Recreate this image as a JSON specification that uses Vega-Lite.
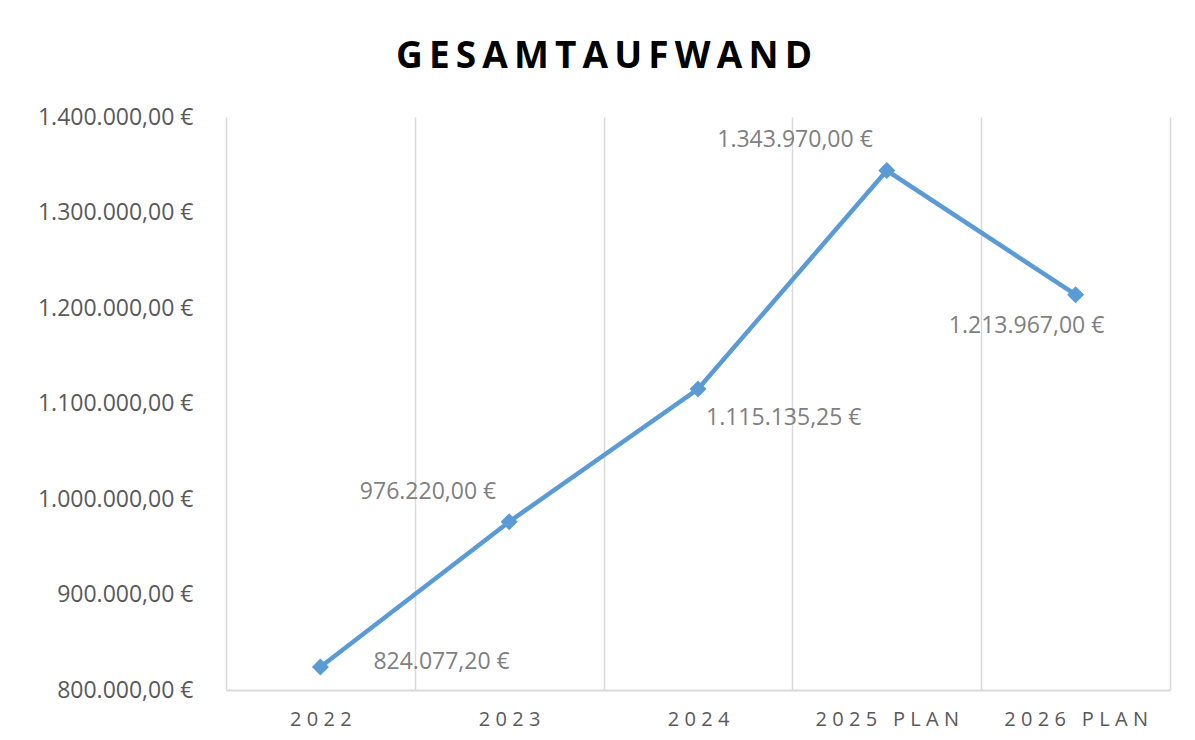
{
  "$schema": "https://vega.github.io/schema/vega-lite/v6.json",
  "autosize": {"type": "none"},
  "width": 944,
  "height": 573,
  "padding": {"left": 226, "top": 117, "right": 25, "bottom": 50},
  "background": "white",
  "config": {
    "view": {"stroke": null},
    "font": "Open Sans",
    "locale": {"number": {"decimal": ",", "thousands": ".", "grouping": [3], "currency": ["", " €"]}}
  },
  "title": {
    "text": "G\u2009E\u2009S\u2009A\u2009M\u2009T\u2009A\u2009U\u2009F\u2009W\u2009A\u2009N\u2009D",
    "font": "Open Sans",
    "fontSize": 37,
    "fontWeight": "bold",
    "color": "#000000",
    "anchor": "middle",
    "frame": "group",
    "dx": -94,
    "offset": 30
  },
  "data": {
    "values": [
      {"year": "2022", "value": 824077.2},
      {"year": "2023", "value": 976220},
      {"year": "2024", "value": 1115135.25},
      {"year": "2025 PLAN", "value": 1343970},
      {"year": "2026 PLAN", "value": 1213967}
    ]
  },
  "encoding": {
    "x": {
      "field": "year", "type": "nominal", "sort": null,
      "scale": {"type": "band", "paddingInner": 0, "paddingOuter": 0},
      "axis": {
        "title": null, "labelAngle": 0, "grid": true, "tickBand": "extent",
        "gridColor": "#d9d9d9", "gridWidth": 1.5, "ticks": false,
        "domainColor": "#d9d9d9", "domainWidth": 2,
        "labelFont": "Open Sans", "labelFontSize": 20, "labelColor": "#595959",
        "labelPadding": 19, "labelBaseline": "top",
        "labelExpr": "join(split(datum.label, ''), '\u2009\u200a')"
      }
    },
    "y": {
      "field": "value", "type": "quantitative",
      "scale": {"domain": [800000, 1400000], "nice": false, "zero": false},
      "axis": {
        "title": null, "grid": false, "ticks": false, "domain": false,
        "values": [800000, 900000, 1000000, 1100000, 1200000, 1300000, 1400000],
        "format": "$,.2f", "labelFont": "Open Sans", "labelFontSize": 23,
        "labelColor": "#595959", "labelPadding": 33
      }
    }
  },
  "layer": [
    {"mark": {"type": "line", "color": "#5b9bd5", "strokeWidth": 4.5}},
    {"mark": {"type": "point", "shape": "diamond", "filled": true, "color": "#5b9bd5", "size": 290, "opacity": 1}},
    {
      "transform": [{"filter": "datum.year == '2022'"}],
      "mark": {"type": "text", "align": "left", "baseline": "middle", "dx": 53, "dy": -5, "fontSize": 23, "color": "#7f7f7f"},
      "encoding": {"text": {"field": "value", "type": "quantitative", "format": "$,.2f"}}
    },
    {
      "transform": [{"filter": "datum.year == '2023'"}],
      "mark": {"type": "text", "align": "right", "baseline": "middle", "dx": -13, "dy": -30, "fontSize": 23, "color": "#7f7f7f"},
      "encoding": {"text": {"field": "value", "type": "quantitative", "format": "$,.2f"}}
    },
    {
      "transform": [{"filter": "datum.year == '2024'"}],
      "mark": {"type": "text", "align": "left", "baseline": "middle", "dx": 8, "dy": 29, "fontSize": 23, "color": "#7f7f7f"},
      "encoding": {"text": {"field": "value", "type": "quantitative", "format": "$,.2f"}}
    },
    {
      "transform": [{"filter": "datum.year == '2025 PLAN'"}],
      "mark": {"type": "text", "align": "right", "baseline": "middle", "dx": -14, "dy": -31, "fontSize": 23, "color": "#7f7f7f"},
      "encoding": {"text": {"field": "value", "type": "quantitative", "format": "$,.2f"}}
    },
    {
      "transform": [{"filter": "datum.year == '2026 PLAN'"}],
      "mark": {"type": "text", "align": "center", "baseline": "middle", "dx": -49, "dy": 31, "fontSize": 23, "color": "#7f7f7f"},
      "encoding": {"text": {"field": "value", "type": "quantitative", "format": "$,.2f"}}
    }
  ]
}
